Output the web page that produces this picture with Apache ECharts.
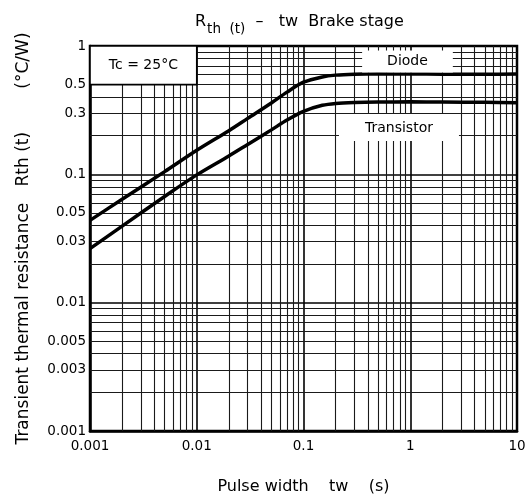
<!DOCTYPE html>
<html>
<head>
<meta charset="utf-8">
<script src="https://cdn.jsdelivr.net/npm/echarts@6/dist/echarts.min.js"></script>
<style>html,body{margin:0;padding:0;background:#fff}#c{width:530px;height:500px}</style>
</head>
<body>
<div id="c"></div>
<script>
// ---- data ----
const pulseWidth = [0.001, 0.002, 0.005, 0.01, 0.02, 0.03, 0.05, 0.07, 0.1, 0.15, 0.2, 0.3, 0.5, 1, 2, 5, 10];
const diode      = [0.0438, 0.064, 0.105, 0.154, 0.219, 0.273, 0.36, 0.437, 0.522, 0.574, 0.593, 0.603, 0.607, 0.605, 0.603, 0.603, 0.605];
const transistor = [0.0264, 0.0395, 0.0672, 0.099, 0.139, 0.171, 0.222, 0.265, 0.31, 0.345, 0.357, 0.363, 0.366, 0.367, 0.366, 0.364, 0.362];

const xTickLabels = ['0.001', '0.01', '0.1', '1', '10'];
const yTickLabels = [1, 0.5, 0.3, 0.1, 0.05, 0.03, 0.01, 0.005, 0.003, 0.001];

const xMinorGrid = [0.002,0.003,0.004,0.005,0.006,0.007,0.008,0.009,
                    0.02,0.03,0.04,0.05,0.06,0.07,0.08,0.09,
                    0.2,0.3,0.4,0.5,0.6,0.7,0.8,0.9,
                    2,3,4,5,6,7,8,9];
const yMinorGrid = [0.002,0.003,0.004,0.005,0.006,0.007,0.008,0.009,
                    0.02,0.03,0.04,0.05,0.06,0.07,0.08,0.09,
                    0.2,0.3,0.4,0.5,0.6,0.7,0.8,0.9];

const curveLabels = [[0.942, 0.757, 'Diode'], [0.784, 0.2317, 'Transistor']];
const condition = {x0: 0.001, x1: 0.01, y0: 0.5, y1: 1, text: 'Tc = 25°C'};

const FONT = 'DejaVu Sans';

// ---- build ----
const gridLineData = [];
xMinorGrid.forEach(v => gridLineData.push({xAxis: v}));
yMinorGrid.forEach(v => gridLineData.push({yAxis: v}));

const yLabelData = yTickLabels.map(v => ({
  yAxis: v,
  lineStyle: {width: 0},
  label: {show: true, position: 'start', distance: 4, formatter: String(v),
          fontFamily: FONT, fontSize: 13.5, color: '#000'}
}));

const chart = echarts.init(document.getElementById('c'), null, {renderer: 'canvas'});
chart.setOption({
  animation: false,
  backgroundColor: '#fff',
  title: {
    left: 195, top: 8, padding: 0,
    text: '{r|R}{s|th  (t)}{n|  –   tw  Brake stage}',
    textStyle: {
      fontWeight: 'normal',
      rich: {
        r: {fontFamily: FONT, fontSize: 16, fontWeight: 'normal', color: '#000', verticalAlign: 'middle', lineHeight: 28},
        s: {fontFamily: FONT, fontSize: 13.5, fontWeight: 'normal', color: '#000', verticalAlign: 'bottom', lineHeight: 28, padding: [0, 0, 0, 1]},
        n: {fontFamily: FONT, fontSize: 16, fontWeight: 'normal', color: '#000', verticalAlign: 'middle', lineHeight: 28}
      }
    }
  },
  grid: {left: 90, right: 13, top: 46, bottom: 69, show: true, borderColor: '#000', borderWidth: 2.5, backgroundColor: '#fff'},
  xAxis: {
    type: 'log', logBase: 10, min: 0.001, max: 10,
    name: 'Pulse width    tw    (s)', nameLocation: 'middle', nameGap: 48,
    nameTextStyle: {fontFamily: FONT, fontSize: 16, color: '#000'},
    axisLine: {show: true, lineStyle: {color: '#000', width: 2.5}},
    axisTick: {show: false},
    axisLabel: {margin: 8, fontFamily: FONT, fontSize: 13.5, color: '#000',
                formatter: (v, i) => xTickLabels[i]},
    splitLine: {show: true, lineStyle: {color: '#000', width: 1.6}}
  },
  yAxis: {
    type: 'log', logBase: 10, min: 0.001, max: 1,
    name: 'Transient thermal resistance   Rth (t)        (°C/W)', nameLocation: 'middle', nameGap: 58,
    nameTextStyle: {fontFamily: FONT, fontSize: 17, color: '#000'},
    axisLine: {show: true, lineStyle: {color: '#000', width: 2.5}},
    axisTick: {show: false},
    axisLabel: {show: false},
    splitLine: {show: true, lineStyle: {color: '#000', width: 1.6}}
  },
  series: [
    {
      type: 'line', data: [], z: 1, silent: true,
      markLine: {
        z: 1, silent: true, symbol: ['none', 'none'], animation: false, precision: 6,
        label: {show: false},
        lineStyle: {color: '#1a1a1a', width: 1.1, type: 'solid'},
        data: gridLineData.concat(yLabelData)
      }
    },
    {
      type: 'line', data: [], z: 3, silent: true,
      markArea: {
        z: 3, silent: true,
        itemStyle: {color: '#fff', opacity: 1, borderColor: '#000', borderWidth: 1.6},
        label: {show: true, position: 'inside', formatter: condition.text,
                fontFamily: FONT, fontSize: 14, color: '#000'},
        data: [[{xAxis: condition.x0, yAxis: condition.y0}, {xAxis: condition.x1, yAxis: condition.y1}]]
      }
    },
    {
      name: 'Diode', type: 'line', z: 5, smooth: 0.3, showSymbol: false, symbol: 'none',
      lineStyle: {color: '#000', width: 3.5},
      data: pulseWidth.map((x, i) => [x, diode[i]])
    },
    {
      name: 'Transistor', type: 'line', z: 5, smooth: 0.3, showSymbol: false, symbol: 'none',
      lineStyle: {color: '#000', width: 3.5},
      data: pulseWidth.map((x, i) => [x, transistor[i]])
    },
    {
      type: 'scatter', z: 6, silent: true, symbolSize: 1,
      itemStyle: {color: 'rgba(0,0,0,0)'},
      data: curveLabels,
      label: {
        show: true, position: 'inside', opacity: 1,
        formatter: p => '{' + (p.dataIndex === 0 ? 'd' : 't') + '|' + p.data[2] + '}',
        rich: {
          d: {fontFamily: FONT, fontSize: 14, color: '#000', backgroundColor: '#fff', padding: [4, 25, 4, 25]},
          t: {fontFamily: FONT, fontSize: 14, color: '#000', backgroundColor: '#fff', padding: [7, 26, 6, 26]}
        }
      }
    }
  ]
});
</script>
</body>
</html>
